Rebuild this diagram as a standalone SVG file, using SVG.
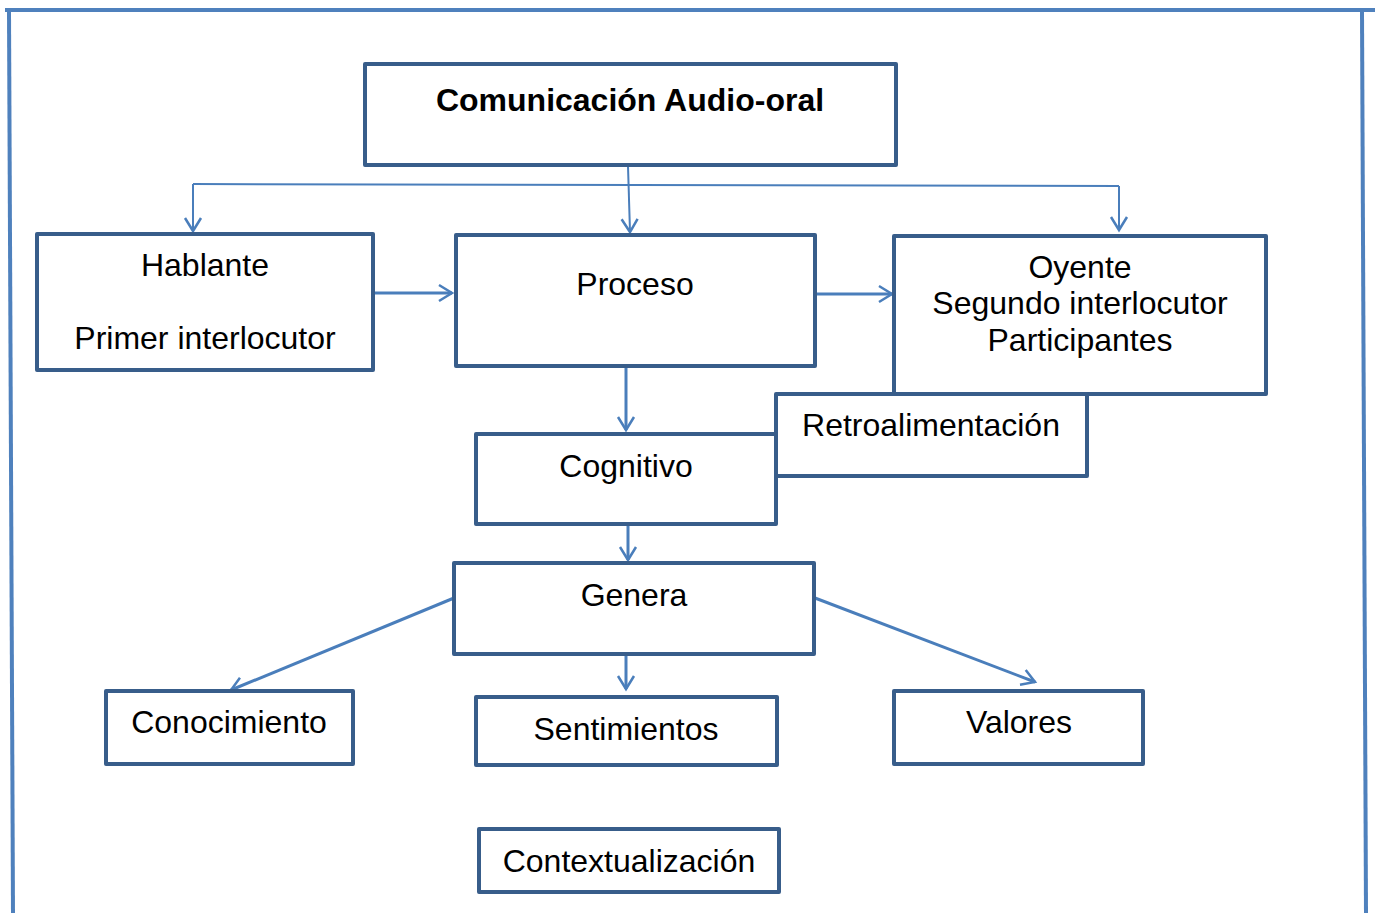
<svg xmlns="http://www.w3.org/2000/svg" width="1377" height="913" viewBox="0 0 1377 913">
<style>
.box{fill:#fff;stroke:#385d8a;stroke-width:4;stroke-linejoin:round}
.t{font-family:"Liberation Sans",Arial,sans-serif;font-size:32px;fill:#000;text-anchor:middle}
.b{font-weight:bold}
.c{fill:none;stroke:#4a7ebb;stroke-width:2}
.c3{fill:none;stroke:#4a7ebb;stroke-width:3}
.frame{fill:none;stroke:#4f81bd;stroke-width:4}
</style>
<defs>
<marker id="ah" markerUnits="userSpaceOnUse" markerWidth="30" markerHeight="30" viewBox="-15 -15 30 30" refX="0" refY="0" orient="auto">
<path d="M-13,-8 L0,0 L-13,8" fill="none" stroke="#4a7ebb" stroke-width="2.5"/>
</marker>
</defs>
<g id="frame">
<line class="frame" x1="5" y1="10" x2="1375" y2="10"/>
<line class="frame" x1="9" y1="12" x2="13" y2="913"/>
<line class="frame" x1="1362" y1="12" x2="1366" y2="913"/>
</g>
<g id="connectors">
<line class="c" x1="193" y1="184" x2="1119" y2="186"/>
<line class="c" x1="193" y1="184" x2="193" y2="231" marker-end="url(#ah)"/>
<line class="c" x1="1119" y1="186" x2="1119" y2="230" marker-end="url(#ah)"/>
<line class="c" x1="628" y1="166" x2="630" y2="232" marker-end="url(#ah)"/>
<line class="c3" x1="375" y1="293" x2="452" y2="293" marker-end="url(#ah)"/>
<line class="c3" x1="816" y1="294" x2="892" y2="294" marker-end="url(#ah)"/>
<line class="c3" x1="626" y1="367" x2="626" y2="430" marker-end="url(#ah)"/>
<line class="c3" x1="628" y1="516" x2="628" y2="560" marker-end="url(#ah)"/>
<line class="c3" x1="454" y1="598" x2="231" y2="690" marker-end="url(#ah)"/>
<line class="c3" x1="815" y1="598" x2="1035" y2="682" marker-end="url(#ah)"/>
<line class="c3" x1="626" y1="655" x2="626" y2="689" marker-end="url(#ah)"/>
</g>
<g id="comunicacion">
<rect class="box" x="365" y="64" width="531" height="101"/>
<text class="t b" x="630" y="111">Comunicación Audio-oral</text>
</g>
<g id="hablante">
<rect class="box" x="37" y="234" width="336" height="136"/>
<text class="t" x="205" y="276">Hablante</text>
<text class="t" x="205" y="349">Primer interlocutor</text>
</g>
<g id="proceso">
<rect class="box" x="456" y="235" width="359" height="131"/>
<text class="t" x="635" y="295">Proceso</text>
</g>
<g id="oyente">
<rect class="box" x="894" y="236" width="372" height="158"/>
<text class="t" x="1080" y="278">Oyente</text>
<text class="t" x="1080" y="314">Segundo interlocutor</text>
<text class="t" x="1080" y="351">Participantes</text>
</g>
<g id="retroalimentacion">
<rect class="box" x="776" y="394" width="311" height="82"/>
<text class="t" x="931" y="436">Retroalimentación</text>
</g>
<g id="cognitivo">
<rect class="box" x="476" y="434" width="300" height="90"/>
<text class="t" x="626" y="477">Cognitivo</text>
</g>
<g id="genera">
<rect class="box" x="454" y="563" width="360" height="91"/>
<text class="t" x="634" y="606">Genera</text>
</g>
<g id="conocimiento">
<rect class="box" x="106" y="691" width="247" height="73"/>
<text class="t" x="229" y="733">Conocimiento</text>
</g>
<g id="sentimientos">
<rect class="box" x="476" y="697" width="301" height="68"/>
<text class="t" x="626" y="740">Sentimientos</text>
</g>
<g id="valores">
<rect class="box" x="894" y="691" width="249" height="73"/>
<text class="t" x="1019" y="733">Valores</text>
</g>
<g id="contextualizacion">
<rect class="box" x="479" y="829" width="300" height="63"/>
<text class="t" x="629" y="872">Contextualización</text>
</g>
</svg>
